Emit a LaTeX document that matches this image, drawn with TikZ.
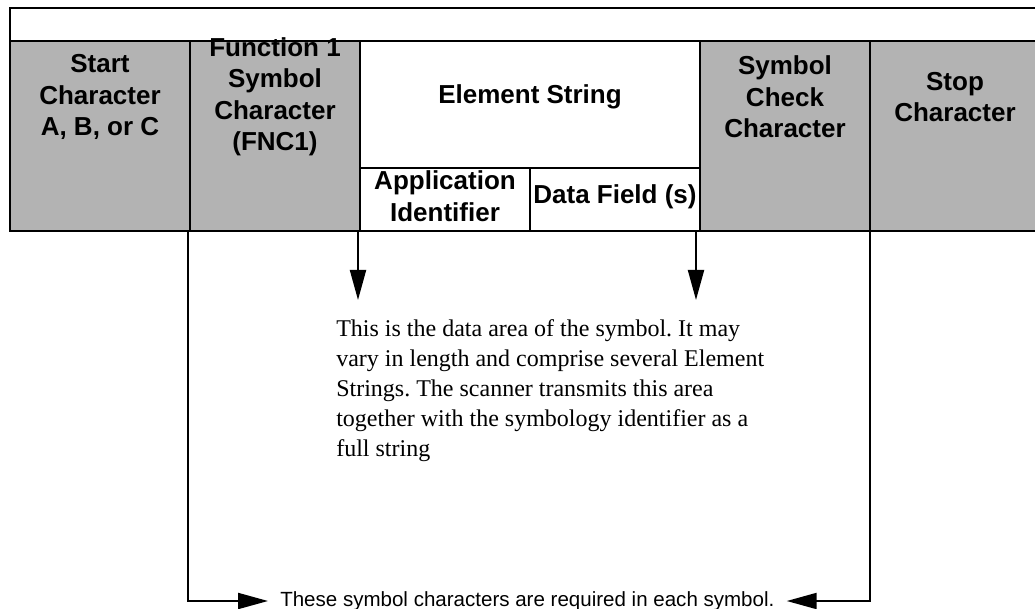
\documentclass[tikz,border=0pt]{standalone}
\usepackage{fontspec}
\setmainfont{Liberation Serif}
\setsansfont{Liberation Sans}
\usepackage{tikz}
\usetikzlibrary{positioning,calc,arrows.meta}
\definecolor{cellc}{HTML}{B3B3B3}
\frenchspacing

\begin{document}
\begin{tikzpicture}[x=0.75pt, y=-0.75pt,
                    cell/.style={draw, line width=1.5pt, anchor=north west, inner sep=0pt, outer sep=0pt},
                    head/.style={font=\sffamily\bfseries\fontsize{19.5pt}{23.6pt}\selectfont, align=center, inner sep=0pt},
                    pointer/.style={line width=1.5pt, -{Triangle[length=22.5pt,width=12pt]}},
                    note/.style={font=\sffamily\fontsize{15.4pt}{18pt}\selectfont, inner ysep=0pt, inner xsep=9pt}]
  \useasboundingbox (0,0) rectangle (1035,609);
  % symbol cells, left to right
  \node[cell, fill=cellc, minimum width=135pt, minimum height=142.5pt] (start) at (10,41) {};
  \node[cell, fill=cellc, minimum width=127.5pt, minimum height=142.5pt] (fnc) at (190,41) {};
  \node[cell, minimum width=255pt, minimum height=95.25pt] (elem) at (360,41) {};
  \node[cell, minimum width=127.5pt, minimum height=47.25pt] (ai) at (360,168) {};
  \node[cell, minimum width=127.5pt, minimum height=47.25pt] (data) at (530,168) {};
  \node[cell, fill=cellc, minimum width=127.5pt, minimum height=142.5pt] (check) at (700,41) {};
  \node[cell, fill=cellc, minimum width=135pt, minimum height=142.5pt] (stop) at (870,41) {};
  % cell texts
  \node[head] (startlbl) at (100,97) {Start\\Character\\A, B, or C};
  \node[head] (fnclbl) at (275,97) {Function 1\\Symbol\\Character\\(FNC1)};
  \node[head] (elemlbl) at (530,97) {Element String};
  \node[head] (checklbl) at (785,97) {Symbol\\Check\\Character};
  \node[head] (stoplbl) at (955,97) {Stop\\Character};
  \node[head] (ailbl) at (445,196) {Application\\Identifier};
  \node[head] (datalbl) at (615,197) {Data Field (s)};
  % empty band on top
  \node[cell, minimum width=772.5pt, minimum height=24.75pt] (band) at (10,8) {};
  % notes below
  \node[font=\fontsize{18pt}{22.5pt}\selectfont, align=left, anchor=north west, inner sep=0pt] (body) at (336,319)
    {This is the data area of the symbol. It may\\
     vary in length and comprise several Element\\
     Strings. The scanner transmits this area\\
     together with the symbology identifier as a\\
     full string};
  \node[note, anchor=west] (req) at (268,601) {These symbol characters are required in each symbol.};
  % arrows
  \coordinate (tipa) at (358,300);
  \coordinate (tipb) at (696,300);
  \draw[pointer] (tipa |- fnc.south) -- (tipa);
  \draw[pointer] (tipb |- data.south) -- (tipb);
  \draw[pointer] ([xshift=-1.5pt]fnc.south west) |- (req.west);
  \draw[pointer] (check.south east) |- (req.east);
\end{tikzpicture}
\end{document}
